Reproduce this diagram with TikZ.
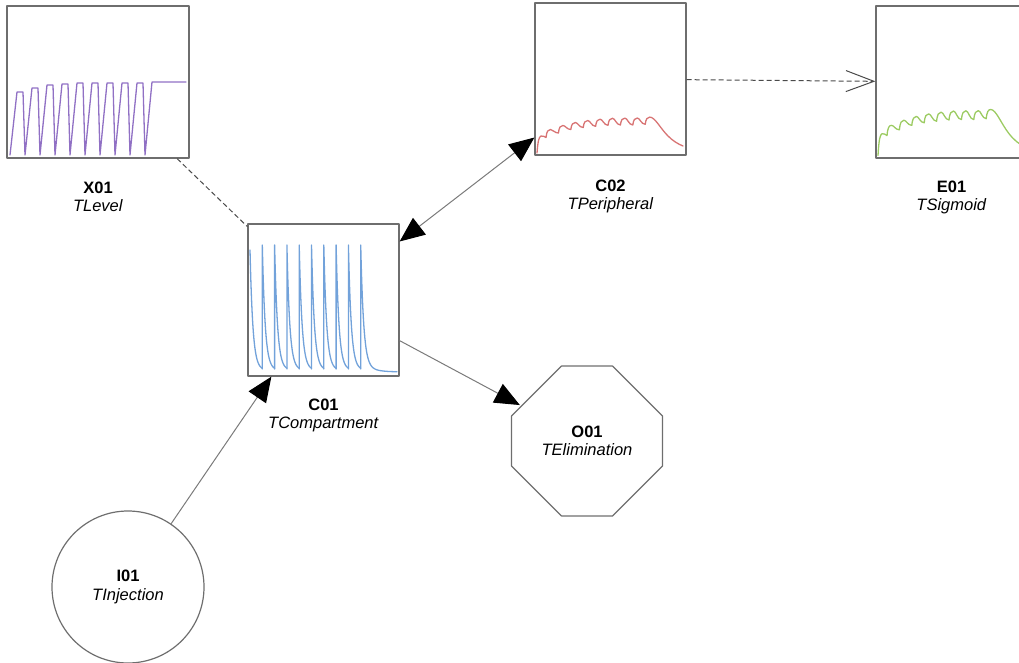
\documentclass[tikz,border=0pt]{standalone}
\usepackage{fontspec}
\setmainfont{Liberation Sans}
\usetikzlibrary{arrows.meta,calc}
\definecolor{boxgray}{HTML}{6E6E6E}
\definecolor{linegray}{HTML}{7A7A7A}
\definecolor{dashgray}{HTML}{4A4A4A}
\definecolor{plotpurple}{HTML}{9070C4}
\definecolor{plotblue}{HTML}{72A2DA}
\definecolor{plotred}{HTML}{D87474}
\definecolor{plotgreen}{HTML}{9CCB62}
\newcommand{\pkcurve}{%
 (2,-2) .. controls (3,-15) and (4,-18) .. (6,-19) .. controls (8,-19) and (10,-18.5) .. (11,-17.5)
 \foreach \tA/\pA/\nA in {11/-25.5/-22, 23.4/-29.5/-25.5, 35.8/-32.5/-27.5, 48.2/-34.5/-28.7, 60.6/-35.8/-29.7, 73/-36.7/-30, 85.4/-36.9/-30, 97.8/-37/-30.7}
 { .. controls ({\tA+0.7},{\pA+1.5}) and ({\tA+2.2},\pA) .. ({\tA+4.5},\pA) .. controls ({\tA+7},\pA) and ({\tA+8.4},\nA) .. ({\tA+12.4},\nA) }
 .. controls (110.9,-36.2) and (112.4,-37.9) .. (114.7,-37.9) .. controls (120,-37.9) and (125,-27) .. (133,-19) .. controls (138,-14) and (143,-11) .. (148,-9)}
\begin{document}
\begin{tikzpicture}[x=1pt,y=-1pt,line join=round,line cap=round,
  font=\fontsize{16.5}{18.5}\selectfont,
  box/.style={draw=boxgray,line width=1.3pt,minimum width=151pt,minimum height=152pt,inner sep=0pt},
  lbl/.style={anchor=north,align=center,inner sep=0pt},
  plotc/.style={line width=1.3pt},
  conn/.style={draw=linegray,line width=1pt},
  dconn/.style={draw=dashgray,line width=1pt,dash pattern=on 5pt off 3pt,line cap=butt},
  bigtri/.tip={Triangle[length=25pt,width=21pt,color=black]},
  openv/.tip={Straight Barb[length=28pt,width=21pt,color=dashgray,line width=1pt]}]
\clip (0,0) rectangle (1019,663);
% nodes
\node[box,minimum width=182pt] (X01) at (98,82) {};
\node[box] (C02) at (610.5,79) {};
\node[box] (E01) at (951.5,82) {};
\node[box] (C01) at (323.5,300) {};
\node[circle,minimum size=152pt,inner sep=0pt,align=center] (O01) at (587,441) {\textbf{O01}\\\textit{TElimination}};
\draw[boxgray,line width=1.2pt] (561.5,366) -- (612.5,366) -- (662.5,416) -- (662.5,466) -- (612.5,516) -- (561.5,516) -- (511.5,466) -- (511.5,416) -- cycle;
\node[circle,draw=boxgray,line width=1.2pt,minimum size=152pt,inner sep=0pt,align=center] (I01) at (128,587) {\textbf{I01}\\\textit{TInjection}};
% labels
\node[lbl] (X01l) at ([yshift=-23pt]X01.south) {\textbf{X01}\\\textit{TLevel}};
\node[lbl] (C02l) at ([yshift=-24pt]C02.south) {\textbf{C02}\\\textit{TPeripheral}};
\node[lbl] (E01l) at ([yshift=-22pt]E01.south) {\textbf{E01}\\\textit{TSigmoid}};
\node[lbl] (C01l) at ([yshift=-22pt]C01.south) {\textbf{C01}\\\textit{TCompartment}};
% plots
\draw[plotc,plotpurple] (10,155) \foreach \k/\h in {0/92,1/88,2/85,3/84,4/83,5/83,6/83,7/83,8/83} { -- ({17+15*\k},\h) -- ({23+15*\k},\h) -- ({25+15*\k},155) } -- (152,82) -- (186,82);
\draw[plotc,plotblue] plot[domain=0:12.3,samples=30,variable=\xx] ({250+\xx},{370-120*exp(-\xx/2.9)});
\foreach \k in {1,...,8} \draw[plotc,plotblue] ({250+12.3*\k},369) -- ({250+12.3*\k},245) -- plot[domain=0:12.3,samples=30,variable=\xx] ({250+12.3*\k+\xx},{370-125*exp(-\xx/2.9)});
\draw[plotc,plotblue] (360.7,369) -- (360.7,245) -- plot[domain=0:36.3,samples=70,variable=\xx] ({360.7+\xx},{372-127*(0.93*exp(-\xx/2.9)+0.07*exp(-\xx/10))});
\begin{scope}[shift={(535,155)}]
\draw[plotc,plotred] \pkcurve;
\end{scope}
\begin{scope}[shift={(876,158)},yscale=1.28]
\draw[plotc,plotgreen] \pkcurve;
\end{scope}
% connectors
\draw[dconn] (X01) -- (C01);
\draw[conn,bigtri-bigtri] (C01) -- (C02);
\draw[dconn,-openv] (C02) -- (E01);
\draw[conn,-bigtri] (C01) -- (O01);
\draw[conn,-bigtri] (I01) -- (C01);
\end{tikzpicture}
\end{document}
